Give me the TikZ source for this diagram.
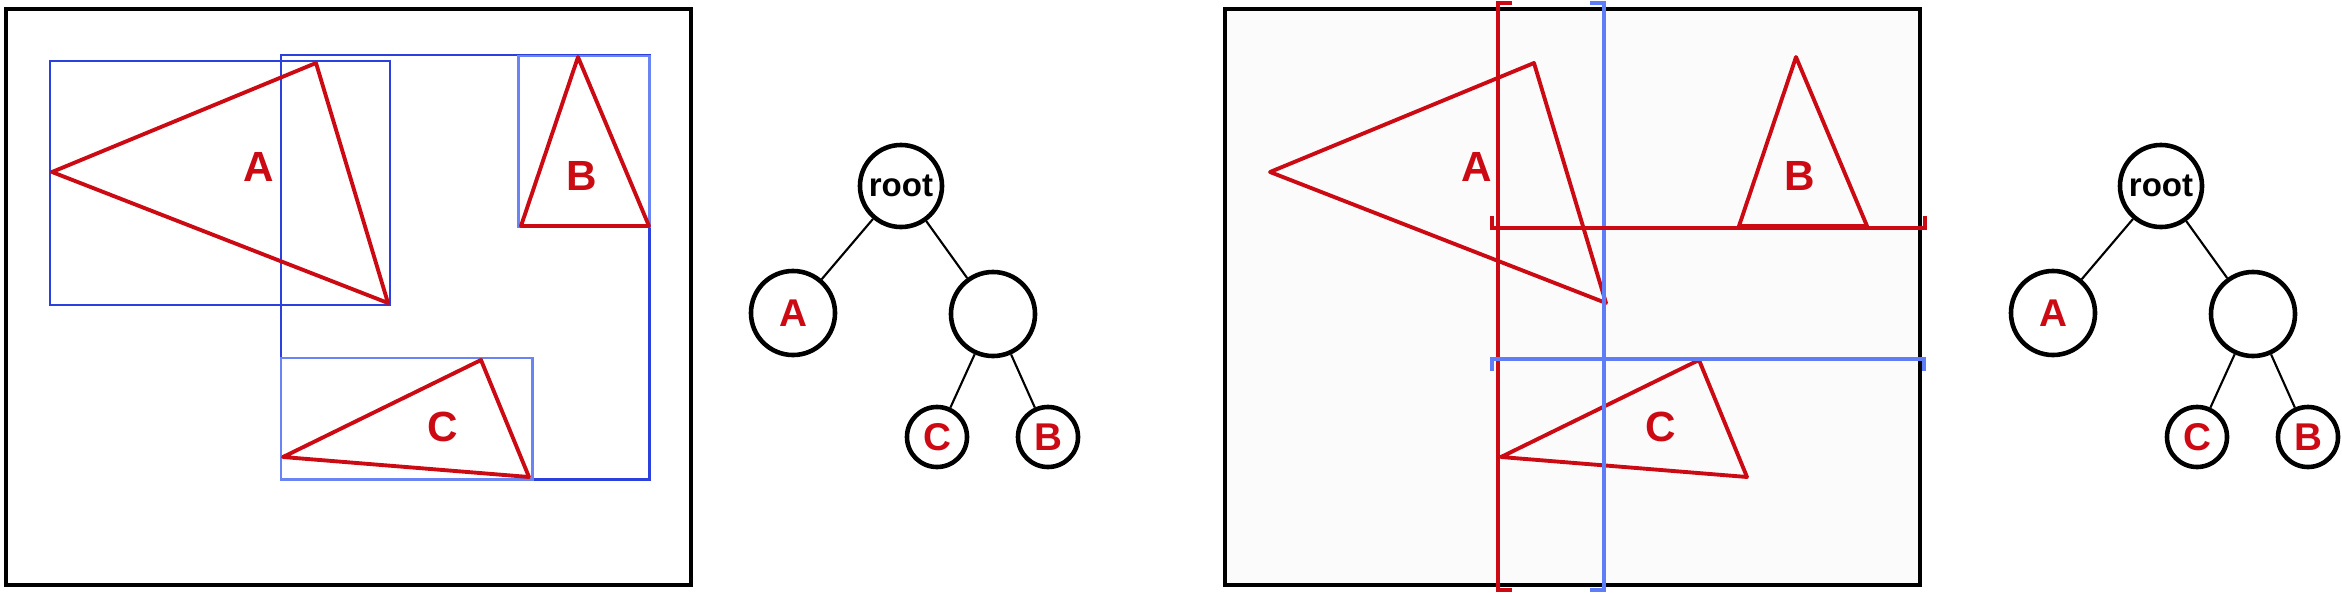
\documentclass[tikz,border=0pt]{standalone}
\usepackage{fontspec}
\setmainfont{Liberation Sans}
\definecolor{trired}{HTML}{CC0A14}
\definecolor{boxblue}{HTML}{2B40DC}
\definecolor{leafblue}{HTML}{6A84F4}
\definecolor{cutblue}{HTML}{5E7DF6}
\definecolor{panelgray}{HTML}{FBFBFB}
\tikzset{
  tri/.style={draw=trired, line width=1.1pt, line join=round},
  bvhbox/.style={draw=boxblue, line width=0.85pt},
  leafbox/.style={draw=leafblue, line width=0.85pt},
  cutline/.style={line width=1.3pt},
  tnode/.style={circle, draw, line width=1.3pt, inner sep=0pt},
  tlabel/.style={font=\fontsize{12}{12}\selectfont\bfseries, text=trired},
  tleaf/.style={font=\fontsize{11}{11}\selectfont\bfseries, text=trired},
}
\begin{document}
\begin{tikzpicture}[x=0.01cm, y=-0.01cm]
\useasboundingbox (0,0) rectangle (2342,594);

% left panel: boxes round each triangle
\draw[line width=1.15pt] (6,9) rectangle (691,585);
\draw[bvhbox] (281,55) rectangle (649,479);
\draw[bvhbox] (50,61) rectangle (390,305);
\draw[leafbox] (518,56) rectangle (649,227);
\draw[leafbox] (281,358) rectangle (532,479);

% right panel
\fill[panelgray] (1225,9) rectangle (1920,585);
\draw[line width=1.15pt] (1225,9) rectangle (1920,585);

% the same triangles in both panels
\foreach \dx/\p in {0/l, 1218/r} {
  \begin{scope}[shift={(\dx,0)}]
  \draw[tri] (52,172) -- (316,63) -- (388,303) -- cycle;
  \draw[tri] (578,57) -- (521,226) -- (649,226) -- cycle;
  \draw[tri] (283,457) -- (481,360) -- (529,477) -- cycle;
  \node[tlabel] (\p labA) at (259,167) {A};
  \node[tlabel] (\p labB) at (582,176) {B};
  \node[tlabel] (\p labC) at (443,427) {C};
  \end{scope}
}

% split lines
\draw[cutline, draw=trired] (1512,3) -- (1498,3) -- (1498,590) -- (1512,590);
\draw[cutline, draw=cutblue] (1590,3) -- (1604,3) -- (1604,590) -- (1590,590);
\draw[cutline, draw=trired] (1492,216) -- (1492,228) -- (1925,228) -- (1925,216);
\draw[cutline, draw=cutblue] (1492,371) -- (1492,359) -- (1924,359) -- (1924,371);

% trees
\foreach \dx/\t in {0/l, 1260/r} {
  \begin{scope}[shift={(\dx,0)}]
  \node[tnode, minimum size=0.82cm, font=\fontsize{9.4}{9.4}\selectfont\bfseries] (\t root) at (901,186) {root};
  \node[tnode, tleaf, minimum size=0.84cm] (\t A) at (793,313) {A};
  \node[tnode, minimum size=0.84cm] (\t mid) at (993,314) {};
  \node[tnode, tleaf, minimum size=0.6cm] (\t C) at (937,437) {C};
  \node[tnode, tleaf, minimum size=0.6cm] (\t B) at (1048,437) {B};
  \draw[line width=0.6pt] (\t root) -- (\t A);
  \draw[line width=0.6pt] (\t root) -- (\t mid);
  \draw[line width=0.6pt] (\t mid) -- (\t C);
  \draw[line width=0.6pt] (\t mid) -- (\t B);
  \end{scope}
}
\end{tikzpicture}
\end{document}
